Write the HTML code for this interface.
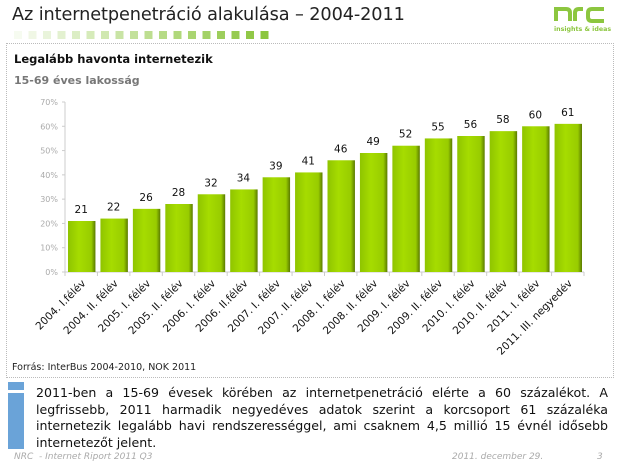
<!DOCTYPE html>
<html><head><meta charset="utf-8">
<style>
body{margin:0;width:620px;height:465px;background:#fff;font-family:"DejaVu Sans","Liberation Sans",sans-serif;position:relative;overflow:hidden}
.title{position:absolute;left:12px;top:5px;font-size:17.7px;color:#222;font-family:"DejaVu Sans",sans-serif;letter-spacing:-0.1px}
.box{position:absolute;left:6px;top:43px;width:606px;height:333px;border:1px dotted #bbb}
.t1{position:absolute;left:14px;top:52px;font-size:11.5px;font-weight:bold;color:#111}
.t2{position:absolute;left:14px;top:74px;font-size:11px;font-weight:bold;color:#777}
.src{position:absolute;left:12px;top:362px;font-size:9.5px;color:#222}
.para{position:absolute;left:36px;top:385px;width:572px;font-size:12.6px;line-height:16.5px;color:#111;text-align:justify}
.foot{position:absolute;top:452px;font-size:9px;color:#aaa;font-style:italic}
</style></head><body>
<div class="title">Az internetpenetráció alakulása – 2004-2011</div>
<svg style="position:absolute;left:0;top:0" width="620" height="46">
<g id="sq"></g>
<g>
<path d="M556 21 V9 H566 Q570 9 570 13 V21 M575 21 V13 Q575 9 579 9 H583 M604 9 H592 Q588 9 588 13 V17 Q588 21 592 21 H604" fill="none" stroke="#8cc63f" stroke-width="4"/>
<text x="554" y="31" font-size="6.3" fill="#8cc63f" font-weight="bold" font-family="DejaVu Sans,sans-serif">insights &amp; ideas</text>
</g>
</svg>
<div class="box"></div>
<div class="t1">Legalább havonta internetezik</div>
<div class="t2">15-69 éves lakosság</div>
<svg id="chart" style="position:absolute;left:0;top:0" width="620" height="380">
<defs><linearGradient id="g" x1="0" x2="1"><stop offset="0" stop-color="#8fc400"/><stop offset="0.4" stop-color="#a6dc00"/><stop offset="0.85" stop-color="#98cc00"/><stop offset="1" stop-color="#5a7a00"/></linearGradient></defs>
</svg>
<div class="src">Forrás: InterBus 2004-2010, NOK 2011</div>
<svg style="position:absolute;left:0;top:378px" width="30" height="75">
<rect x="8" y="4" width="16" height="8" fill="#6aa3d8"/><rect x="8" y="15" width="16" height="56" fill="#6aa3d8"/></svg>
<div class="para">2011-ben a 15-69 évesek körében az internetpenetráció elérte a 60 százalékot. A legfrissebb, 2011 harmadik negyedéves adatok szerint a korcsoport 61 százaléka internetezik legalább havi rendszerességgel, ami csaknem 4,5 millió 15 évnél idősebb internetezőt jelent.</div>
<div class="foot" style="left:14px">NRC &nbsp;- Internet Riport 2011 Q3</div>
<div class="foot" style="left:452px">2011. december 29.</div>
<div class="foot" style="left:597px">3</div>
<script>
const categories=["2004. I.félév","2004. II. félév","2005. I. félév","2005. II. félév","2006. I. félév","2006. II.félév","2007. I. félév","2007. II. félév","2008. I. félév","2008. II. félév","2009. I. félév","2009. II. félév","2010. I. félév","2010. II. félév","2011. I. félév","2011. III. negyedév"];
const values=[21,22,26,28,32,34,39,41,46,49,52,55,56,58,60,61];
const yTicks=[0,10,20,30,40,50,60,70];
const NS="http://www.w3.org/2000/svg";
const svg=document.getElementById('chart');
const X0=65,X1=584,Y0=272,Y70=102;
const y=v=>Y0-(v/70)*(Y0-Y70);
const bw=(X1-X0)/categories.length;
const x=i=>X0+i*bw;
function mk(t,a){const e=document.createElementNS(NS,t);for(const k in a)e.setAttribute(k,a[k]);svg.appendChild(e);return e;}
let ax=mk('line',{x1:X0,y1:Y70,x2:X0,y2:Y0,stroke:'#ccc'});


let bx=mk('line',{x1:X0,y1:Y0,x2:X1,y2:Y0,stroke:'#ccc'});


yTicks.forEach(v=>{
 mk('line',{x1:X0-3,x2:X0,y1:y(v),y2:y(v),stroke:'#ccc'});
 const t=mk('text',{x:X0-7,y:y(v)+3,'font-size':8,'text-anchor':'end',fill:'#aaa'});
 t.textContent=v+'%';
 
 
});
for(let i=0;i<=categories.length;i++) mk('line',{x1:x(i),x2:x(i),y1:Y0,y2:Y0+4,stroke:'#ccc'});
values.forEach((v,i)=>{
 const r=mk('rect',{x:x(i)+3,y:y(v),width:bw-5,height:Y0-y(v),fill:'url(#g)'});
 
 
 const t=mk('text',{x:x(i)+bw/2,y:y(v)-8,'font-size':10.5,'text-anchor':'middle',fill:'#111'});
 t.textContent=v;
 
 
});
categories.forEach((c,i)=>{
 const cx=x(i)+bw/2+5, cy=Y0+12;
 const t=mk('text',{x:cx,y:cy,'font-size':10.5,'text-anchor':'end',fill:'#111',transform:`rotate(-45 ${cx} ${cy})`});
 t.textContent=c;
 
 
});
const sq=document.getElementById('sq');
for(let i=0;i<18;i++){const r=document.createElementNS(NS,'rect');
 r.setAttribute('x',14+i*14.5);r.setAttribute('y',31);r.setAttribute('width',8);r.setAttribute('height',8);
 r.setAttribute('fill','#8cc63f');r.setAttribute('opacity',Math.min(1,0.08+i*0.055));sq.appendChild(r);}
</script>
</body></html>
